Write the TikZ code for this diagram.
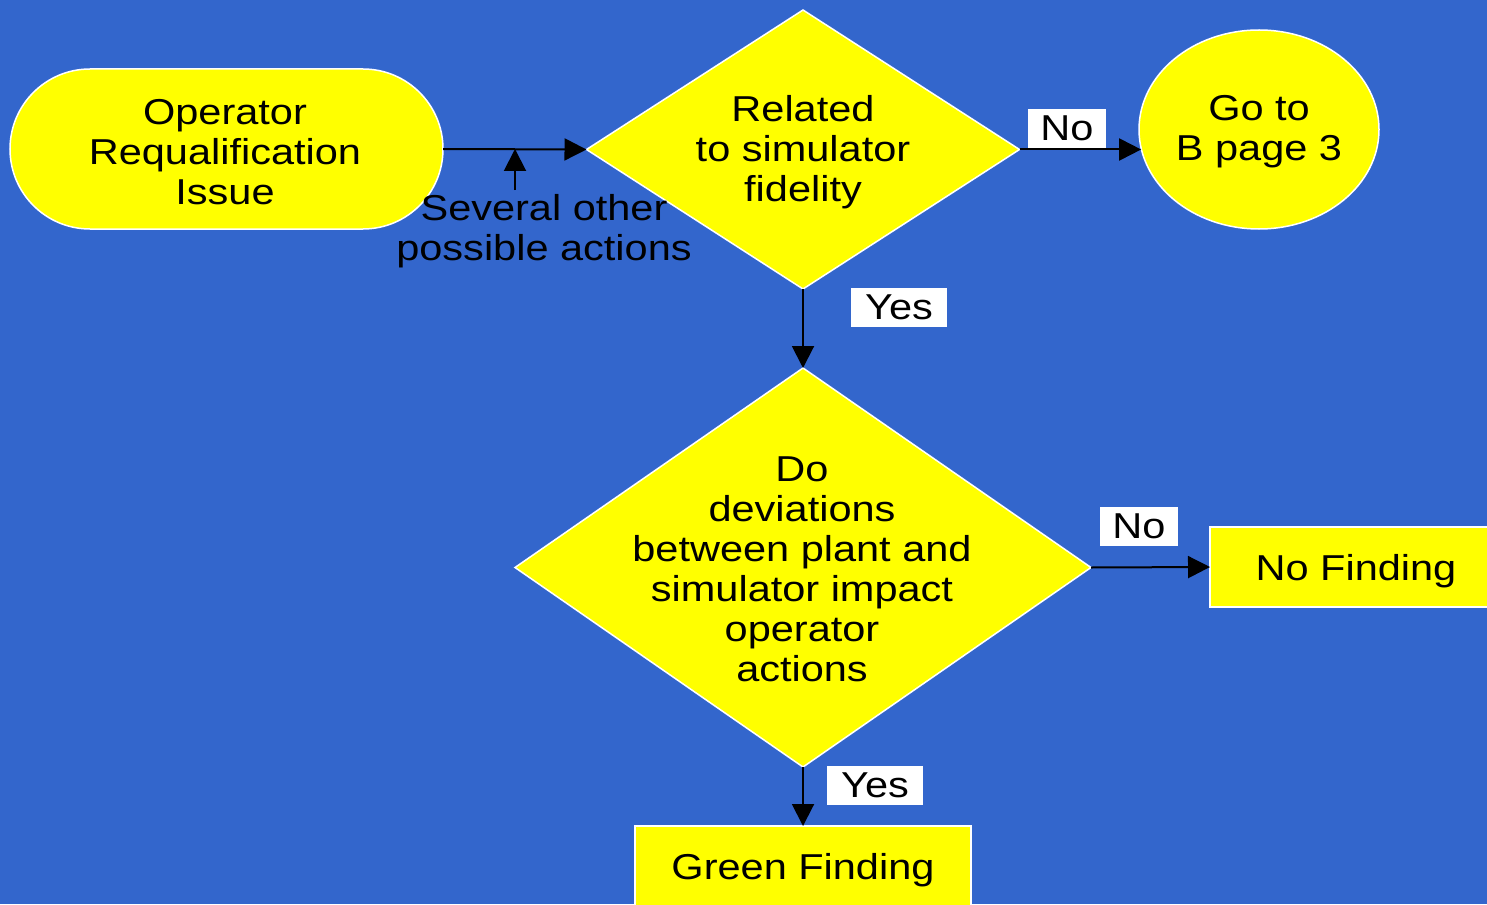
\documentclass[tikz,border=0pt]{standalone}
\usepackage{fontspec}
\setmainfont{Liberation Sans}[FakeStretch=1.153]
\usetikzlibrary{shapes.geometric,arrows.meta}
\definecolor{bg}{RGB}{51,102,204}
\definecolor{yel}{RGB}{255,255,0}
\begin{document}
\begin{tikzpicture}[x=1pt,y=-1pt,
  every node/.style={font=\fontsize{36}{40}\selectfont, inner sep=0pt, outer sep=0pt, text=black},
  shapebox/.style={fill=yel, draw=white, line width=1.5pt},
  txt/.style={align=center},
  lbl/.style={fill=white, minimum height=39pt, align=center},
  conn/.style={draw=black, line width=2pt, -{Triangle[length=22pt,width=22pt]}}]
\useasboundingbox (0,0) rectangle (1487,904);
\fill[bg] (0,0) rectangle (1487,904);
% shapes
\node[shapebox, rectangle, rounded corners=80pt, minimum width=433pt, minimum height=160pt] (op) at (226.5,149) {};
\node[txt] (opt) at (225,152) {Operator\\Requalification\\Issue};
\node[shapebox, diamond, minimum width=433pt, minimum height=279pt] (d1) at (803,149.5) {};
\node[txt] (d1t) at (803,152) {Related\\to simulator\\fidelity};
\node[shapebox, ellipse, minimum width=240pt, minimum height=199pt] (go) at (1259,129.5) {};
\node[txt] (got) at (1259,132) {Go to\\B page 3};
\node[shapebox, diamond, minimum width=576pt, minimum height=399pt] (d2) at (803,567.5) {};
\node[txt] (d2t) at (802,569) {Do\\deviations\\between plant and\\simulator impact\\operator\\actions};
\node[shapebox, rectangle, minimum width=292pt, minimum height=80pt, text depth=0pt] (nf) at (1356,567) {No Finding};
\node[shapebox, rectangle, minimum width=336pt, minimum height=80pt, text depth=0pt] (gf) at (803,866) {Green Finding};
\node[txt] (sev) at (544,231) {Several other\\possible actions};
% connectors
\coordinate (up) at (515,190);
\coordinate (j) at (515,149);
\draw[conn] (op.east) -- (d1.west);
\draw[conn] (up) -- (j);
\draw[conn] (d1.east) -- (d1.east -| go.189.4);
\draw[conn] (d1.south) -- (d2.north);
\draw[conn] (d2.east) -- (nf.west);
\draw[conn] (d2.south) -- (gf.north);
% labels
\node[lbl, minimum width=78pt] (no1) at (1067,128.5) {No};
\node[lbl, minimum width=96pt] (yes1) at (899,307.5) {Yes};
\node[lbl, minimum width=78pt] (no2) at (1139,526.5) {No};
\node[lbl, minimum width=96pt] (yes2) at (875,785.5) {Yes};
\end{tikzpicture}
\end{document}
